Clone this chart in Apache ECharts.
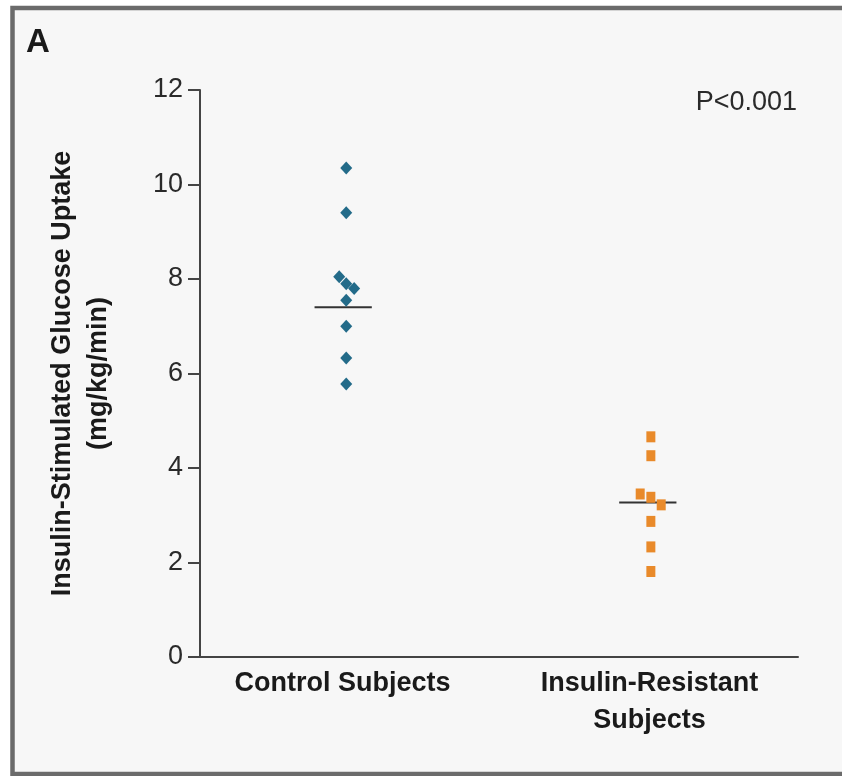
<!DOCTYPE html>
<html>
<head>
<meta charset="utf-8">
<script src="https://cdn.jsdelivr.net/npm/echarts@6/dist/echarts.min.js"></script>
<style>
html,body{margin:0;padding:0;background:#ffffff;}
#chart{width:842px;height:776px;}
</style>
</head>
<body>
<div id="chart"></div>
<script>
// Data
var categories = ['Control Subjects', 'Insulin-Resistant\nSubjects'];
var groupPositions = [1, 2];
var controlValues = [10.35, 9.4, 8.05, 7.9, 7.8, 7.55, 7.0, 6.33, 5.78];
var controlJitter = [0, 0, -0.023, 0, 0.026, 0, 0, 0, 0];
var resistantValues = [4.66, 4.26, 3.45, 3.38, 3.22, 2.87, 2.33, 1.81];
var resistantJitter = [0, 0, -0.035, 0, 0.034, 0, 0, 0];
var groupMeans = [7.4, 3.27];
var meanCenters = [0.99, 1.99];
var yTicks = [0, 2, 4, 6, 8, 10, 12];
var pValueText = 'P<0.001';
var yTitle = 'Insulin-Stimulated Glucose Uptake\n(mg/kg/min)';

var FONT = '"Liberation Sans", Arial, sans-serif';
var meanHalf = 0.094;

function pts(vals, jit, pos) {
  return vals.map(function (v, i) { return [pos + jit[i], v]; });
}
function meanLine(i) {
  return [[meanCenters[i] - meanHalf, groupMeans[i]], [meanCenters[i] + meanHalf, groupMeans[i]]];
}

var chart = echarts.init(document.getElementById('chart'));
chart.setOption({
  backgroundColor: '#ffffff',
  animation: false,
  graphic: [
    { type: 'rect', shape: { x: 12.5, y: 8, width: 850, height: 766 }, style: { fill: '#f7f7f7', stroke: '#6b6b6b', lineWidth: 4.5 }, z: -10 },
    { type: 'text', left: 26, top: 26, style: { text: 'A', font: 'bold 33px ' + FONT, fill: '#1a1a1a' } },
    { type: 'text', right: 45, top: 89, style: { text: pValueText, font: '27px ' + FONT, fill: '#2a2a2a' } }
  ],
  grid: [
    { left: 200, right: 44, top: 90, bottom: 119 },
    { left: 189, width: 614, top: 90, bottom: 119 }
  ],
  xAxis: [
    { type: 'value', gridIndex: 0, min: 0.52, max: 2.483,
      axisLine: { show: true, onZero: false, lineStyle: { color: '#444', width: 2 } },
      axisTick: { show: false }, axisLabel: { show: false }, splitLine: { show: false } },
    { type: 'category', gridIndex: 1, data: categories,
      axisLine: { show: false }, axisTick: { show: false }, splitLine: { show: false },
      axisLabel: { margin: 8, color: '#1a1a1a', fontFamily: FONT, fontWeight: 'bold', fontSize: 27, lineHeight: 37, interval: 0 } }
  ],
  yAxis: [
    { type: 'value', gridIndex: 0, min: 0, max: 12, interval: 2,
      name: yTitle, nameLocation: 'middle', nameGap: 83, nameRotate: 90,
      nameTextStyle: { color: '#1a1a1a', fontFamily: FONT, fontWeight: 'bold', fontSize: 27, lineHeight: 36 },
      axisLine: { show: true, lineStyle: { color: '#444', width: 2 } },
      axisTick: { show: true, inside: false, length: 12, lineStyle: { color: '#444', width: 2 } },
      axisLabel: { margin: 17, color: '#2a2a2a', fontFamily: FONT, fontSize: 27,
        formatter: function (v) { return yTicks.indexOf(v) >= 0 ? String(v) : ''; } },
      splitLine: { show: false } },
    { type: 'value', gridIndex: 1, min: 0, max: 12, show: false }
  ],
  series: [
    { type: 'scatter', xAxisIndex: 0, yAxisIndex: 0, symbol: 'diamond', symbolSize: [12, 13],
      itemStyle: { color: '#236b89', opacity: 1 }, data: pts(controlValues, controlJitter, groupPositions[0]) },
    { type: 'scatter', xAxisIndex: 0, yAxisIndex: 0, symbol: 'rect', symbolSize: [9, 11],
      itemStyle: { color: '#e98a2a', opacity: 1 }, data: pts(resistantValues, resistantJitter, groupPositions[1]) },
    { type: 'line', xAxisIndex: 0, yAxisIndex: 0, symbol: 'none', data: meanLine(0),
      lineStyle: { color: '#333', width: 2 }, z: 1 },
    { type: 'line', xAxisIndex: 0, yAxisIndex: 0, symbol: 'none', data: meanLine(1),
      lineStyle: { color: '#333', width: 2 }, z: 1 }
  ]
});
</script>
</body>
</html>
